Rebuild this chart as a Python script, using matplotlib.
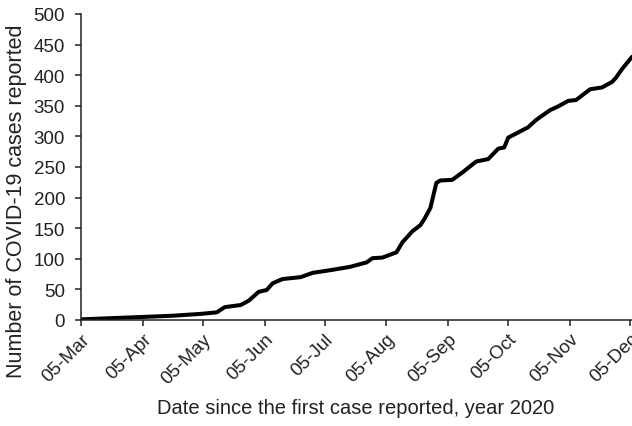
import matplotlib
matplotlib.use("Agg")
import matplotlib.pyplot as plt
import matplotlib.dates as mdates
import pandas as pd

plt.rcParams['font.family'] = ['Liberation Sans', 'DejaVu Sans']

dates = ["2020-03-05", "2020-03-20", "2020-04-05", "2020-04-20", "2020-05-04",
         "2020-05-12", "2020-05-16", "2020-05-24", "2020-05-28", "2020-06-02",
         "2020-06-06", "2020-06-09", "2020-06-14", "2020-06-23", "2020-06-29",
         "2020-07-09", "2020-07-18", "2020-07-23", "2020-07-26", "2020-07-29",
         "2020-08-03", "2020-08-10", "2020-08-11", "2020-08-13", "2020-08-18",
         "2020-08-22", "2020-08-24", "2020-08-27", "2020-08-30", "2020-09-01",
         "2020-09-07", "2020-09-12", "2020-09-19", "2020-09-25", "2020-09-30",
         "2020-10-03", "2020-10-05", "2020-10-15", "2020-10-19", "2020-10-26",
         "2020-10-30", "2020-11-04", "2020-11-08", "2020-11-15", "2020-11-21",
         "2020-11-26", "2020-11-28", "2020-12-01", "2020-12-06"]
cases = [1, 3, 5, 7, 10,
         12.5, 21, 24.5, 31.5, 46,
         49, 60, 67, 70, 77,
         82, 87, 91.5, 94, 101,
         102, 110.6, 116, 127, 145,
         155, 165, 183, 224, 228,
         229, 241, 259, 263, 280,
         282, 298, 315, 327, 343,
         349, 358, 359.5, 377, 380,
         389, 396, 410, 430]
tick_dates = ["2020-03-05", "2020-04-05", "2020-05-05", "2020-06-05", "2020-07-05",
              "2020-08-05", "2020-09-05", "2020-10-05", "2020-11-05", "2020-12-05"]

x = pd.to_datetime(dates)
ticks = pd.to_datetime(tick_dates)

fig = plt.figure(figsize=(6.32, 4.27), dpi=100)
ax = fig.add_axes([81/632, 1-321/427, 1-81/632, (321-15)/427])

ax.plot(x, cases, color='black', lw=2.9, solid_joinstyle='round', solid_capstyle='round')

ax.set_xlim(pd.Timestamp("2020-03-05"), pd.Timestamp("2020-12-06"))
ax.set_ylim(0, 500)
ax.set_yticks(range(0, 501, 50))
ax.set_xticks(ticks)
ax.xaxis.set_major_formatter(mdates.DateFormatter('%d-%b'))

for s in ['top', 'right']:
    ax.spines[s].set_visible(False)
for s in ['left', 'bottom']:
    ax.spines[s].set_color('#222222')
    ax.spines[s].set_linewidth(1.1)

ax.tick_params(axis='y', direction='out', length=4.5, width=1.1, color='#222222',
               labelsize=13.5, pad=7, labelcolor='#222222')
ax.tick_params(axis='x', direction='out', length=4.5, width=1.1, color='#222222',
               labelsize=13.5, pad=3, labelcolor='#222222')
for lab in ax.get_xticklabels():
    lab.set_rotation(45)
    lab.set_ha('right')
    lab.set_rotation_mode('anchor')

ax.set_ylabel('Number of COVID-19 cases reported', fontsize=15.5, color='#222222')
ax.yaxis.set_label_coords(-0.098, 0.392)
ax.set_xlabel('Date since the first case reported, year 2020', fontsize=14.5, color='#222222')
ax.xaxis.set_label_coords(0.498, -0.255)

fig.savefig('out.png', dpi=100)
